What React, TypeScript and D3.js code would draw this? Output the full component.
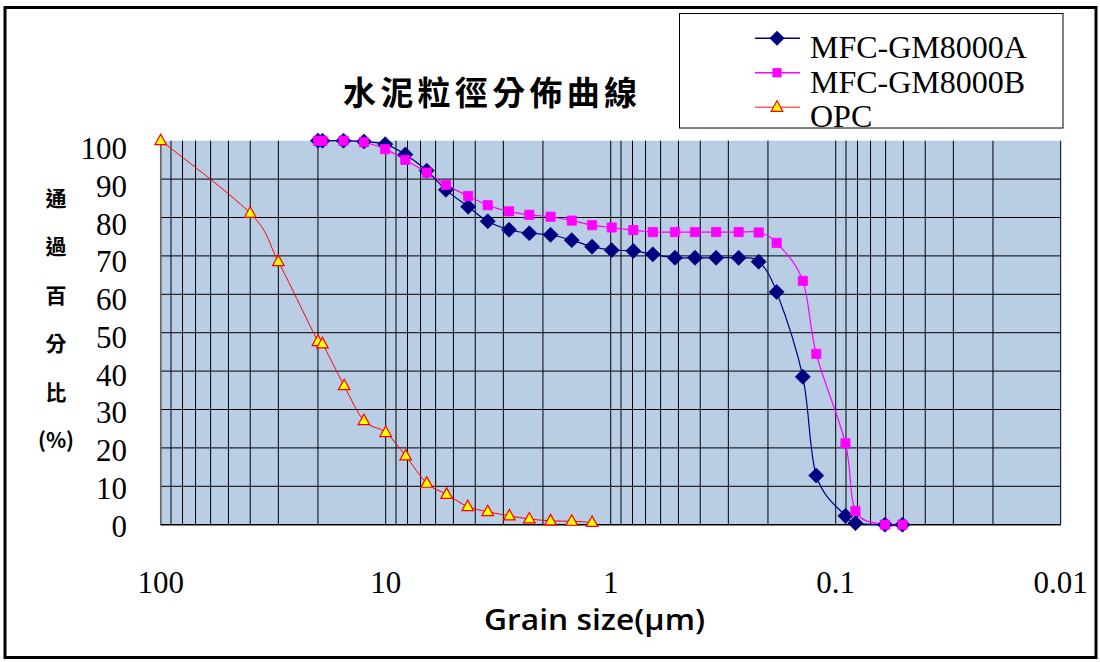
import React from "react";
import * as d3 from "d3";

// Particle size bins (µm) shared by the two MFC-GM8000 samples
const sizesMfc = [
  20, 19.1, 15.4, 12.5, 10.05, 8.18, 6.57, 5.4, 4.3, 3.52, 2.83, 2.3, 1.85, 1.49, 1.21,
  0.99, 0.794, 0.65, 0.518, 0.422, 0.34, 0.27, 0.22, 0.183, 0.14, 0.122, 0.0905, 0.0817,
  0.0604, 0.0505,
];
// Cumulative passing percentage, MFC-GM8000A
const passA = [
  100, 100, 100, 99.8, 99.1, 96.4, 92.2, 87.2, 82.8, 79.0, 76.8, 75.9, 75.5, 74.1, 72.4,
  71.5, 71.3, 70.4, 69.5, 69.5, 69.5, 69.5, 68.5, 60.6, 38.5, 12.8, 2.3, 0.4, 0, 0,
];
// Cumulative passing percentage, MFC-GM8000B
const passB = [
  100, 100, 100, 99.6, 97.8, 95.0, 91.7, 88.5, 85.6, 83.2, 81.6, 80.7, 80.2, 79.2, 78.0,
  77.4, 76.7, 76.2, 76.2, 76.2, 76.2, 76.2, 76.1, 73.4, 63.5, 44.5, 21.2, 3.6, 0, 0,
];
// Ordinary Portland cement
const sizesOpc = [
  100, 40, 30, 20, 19.1, 15.3, 12.5, 10.0, 8.15, 6.57, 5.36, 4.32, 3.52, 2.82, 2.3, 1.85,
  1.49, 1.21,
];
const passOpc = [
  100, 81.1, 68.5, 47.7, 47.1, 36.2, 27.1, 24.0, 17.9, 10.8, 7.9, 4.7, 3.4, 2.3, 1.5, 1.0,
  0.9, 0.6,
];

const xTickLabels = ["100", "10", "1", "0.1", "0.01"];
const yTickValues = [0, 10, 20, 30, 40, 50, 60, 70, 80, 90, 100];
const yTitleChars = ["通", "過", "百", "分", "比", "(%)"];
const seriesNames = ["MFC-GM8000A", "MFC-GM8000B", "OPC"];

const W = 1100;
const H = 662;
const plot = { left: 160.7, right: 1060.7, top: 140.7, bottom: 524.7 };

const serif = "'Liberation Serif', 'Times New Roman', serif";
const cjk = "'Noto Sans CJK TC', 'Noto Sans CJK SC', sans-serif";

const diamondPath = "M0,-7.5L7.5,0L0,7.5L-7.5,0Z";
const squarePath = "M-4.6,-4.6H4.6V4.6H-4.6Z";
const trianglePath = "M0,-6.5L5.8,4L-5.8,4Z";

export default function App() {
  const x = d3.scaleLog().domain([100, 0.01]).range([plot.left, plot.right]);
  const y = d3.scaleLinear().domain([0, 100]).range([plot.bottom, plot.top]);
  // tick label positions sit on a slightly tighter span than the gridlines
  const yLabel = d3.scaleLinear().domain([0, 100]).range([526, 148.5]);

  const gridX = x.ticks();
  const gridY = yTickValues.filter((v) => v > 0 && v < 100);

  const line = d3
    .line<[number, number]>()
    .x((d) => x(d[0]))
    .y((d) => y(d[1]))
    .curve(d3.curveCatmullRom.alpha(0));

  const ptsA: [number, number][] = sizesMfc.map((s, i) => [s, passA[i]]);
  const ptsB: [number, number][] = sizesMfc.map((s, i) => [s, passB[i]]);
  const ptsO: [number, number][] = sizesOpc.map((s, i) => [s, passOpc[i]]);

  const legendY = [38.3, 72.7, 107.3];

  return (
    <svg
      width={W}
      height={H}
      style={{ position: "absolute", left: 0, top: 0, background: "#fff" }}
    >
      <rect x={0} y={0} width={W} height={H} fill="#fff" />
      <rect x={5} y={7.5} width={1091} height={650} fill="none" stroke="#000" strokeWidth={3} />

      {/* plot area */}
      <rect
        x={plot.left}
        y={plot.top}
        width={plot.right - plot.left}
        height={plot.bottom - plot.top}
        fill="#B9CDE5"
      />
      {gridX.map((t, i) => (
        <line
          key={"gx" + i}
          x1={x(t)}
          x2={x(t)}
          y1={plot.top}
          y2={plot.bottom}
          stroke="#000"
          strokeWidth={1}
        />
      ))}
      {gridY.map((v) => (
        <line
          key={"gy" + v}
          x1={plot.left}
          x2={plot.right}
          y1={y(v)}
          y2={y(v)}
          stroke="#000"
          strokeWidth={1}
        />
      ))}
      <line x1={plot.left} x2={plot.left} y1={plot.top} y2={plot.bottom} stroke="#666" strokeWidth={1.5} />
      <line x1={plot.left} x2={plot.right} y1={plot.bottom} y2={plot.bottom} stroke="#000" strokeWidth={1.5} />

      {/* series lines */}
      <path d={line(ptsO) || ""} fill="none" stroke="#FF0000" strokeWidth={1} />
      <path d={line(ptsB) || ""} fill="none" stroke="#FF00FF" strokeWidth={1.2} />
      <path d={line(ptsA) || ""} fill="none" stroke="#000080" strokeWidth={1.2} />

      {/* markers */}
      {ptsO.map((p, i) => (
        <path
          key={"mo" + i}
          d={trianglePath}
          transform={`translate(${x(p[0])},${y(p[1])})`}
          fill="#FFFF00"
          stroke="#FF0000"
          strokeWidth={1.2}
        />
      ))}
      {ptsA.map((p, i) => (
        <path
          key={"ma" + i}
          d={diamondPath}
          transform={`translate(${x(p[0])},${y(p[1])})`}
          fill="#000080"
          stroke="#000080"
          strokeWidth={0.8}
        />
      ))}
      {ptsB.map((p, i) => (
        <path
          key={"mb" + i}
          d={squarePath}
          transform={`translate(${x(p[0])},${y(p[1])})`}
          fill="#FF00FF"
          stroke="#FF00FF"
          strokeWidth={0.8}
        />
      ))}

      {/* y tick labels */}
      {yTickValues.map((v) => (
        <text
          key={"yl" + v}
          x={127}
          y={yLabel(v) + 10.5}
          textAnchor="end"
          fontFamily={serif}
          fontSize={31}
          fill="#000"
        >
          {v}
        </text>
      ))}

      {/* x tick labels */}
      {xTickLabels.map((s) => (
        <text
          key={"xl" + s}
          x={x(+s)}
          y={593}
          textAnchor="middle"
          fontFamily={serif}
          fontSize={31}
          fill="#000"
        >
          {s}
        </text>
      ))}

      {/* axis titles */}
      <text
        x={594.5}
        y={630}
        textAnchor="middle"
        fontFamily="'Open Sans', 'Noto Sans', sans-serif"
        fontWeight={600}
        fontSize={28}
        textLength={221}
        lengthAdjust="spacingAndGlyphs"
        fill="#000"
      >
        Grain size(μm)
      </text>
      {yTitleChars.map((c, i) => (
        <text
          key={"yt" + i}
          x={56}
          y={198 + i * 48.4 + 8}
          textAnchor="middle"
          fontFamily={cjk}
          fontWeight={700}
          fontSize={21}
          fill="#000"
        >
          {c}
        </text>
      ))}

      {/* chart title */}
      <text
        x={490}
        y={105}
        textAnchor="middle"
        fontFamily={cjk}
        fontWeight={700}
        fontSize={33}
        textLength={294}
        lengthAdjust="spacing"
        fill="#000"
      >
        水泥粒徑分佈曲線
      </text>

      {/* legend */}
      <rect x={679.5} y={13.5} width={383.5} height={114.5} fill="#fff" stroke="#000" strokeWidth={1} />
      {seriesNames.map((name, i) => {
        const ly = legendY[i];
        const color = i === 0 ? "#000080" : i === 1 ? "#FF00FF" : "#FF6060";
        return (
          <g key={"lg" + i}>
            <line x1={755} x2={800} y1={ly} y2={ly} stroke={color} strokeWidth={1.5} />
            {i === 0 && (
              <path d={diamondPath} transform={`translate(777,${ly})`} fill="#000080" />
            )}
            {i === 1 && (
              <path d={squarePath} transform={`translate(777,${ly})`} fill="#FF00FF" />
            )}
            {i === 2 && (
              <path
                d={trianglePath}
                transform={`translate(777,${ly})`}
                fill="#FFFF00"
                stroke="#FF0000"
                strokeWidth={1.2}
              />
            )}
            <text x={810} y={ly + 20} fontFamily={serif} fontSize={32} fill="#000">
              {name}
            </text>
          </g>
        );
      })}
    </svg>
  );
}
